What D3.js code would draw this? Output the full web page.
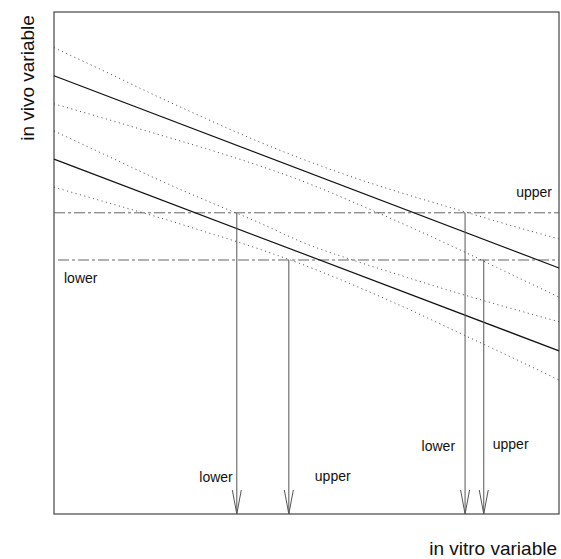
<!DOCTYPE html>
<html>
<head>
<meta charset="utf-8">
<script src="https://cdn.jsdelivr.net/npm/d3@7"></script>
<style>
  body { margin: 0; background: #fff; }
  text { font-family: "Liberation Sans", Arial, sans-serif; fill: #111; }
</style>
</head>
<body>
<div class="chart-container"></div>
<script>
//! DATA
const fitX = [0, 10];
const upperFit = [8.73, 4.90];
const lowerFit = [7.07, 3.25];

const bandX = [0, 1, 2, 3, 4, 5, 6, 7, 8, 9, 10];
const upperBandHi = [9.29, 8.82, 8.34, 7.88, 7.44, 7.04, 6.68, 6.36, 6.06, 5.76, 5.48];
const upperBandLo = [8.17, 7.88, 7.58, 7.28, 6.96, 6.60, 6.18, 5.74, 5.28, 4.80, 4.32];
const lowerBandHi = [7.63, 7.16, 6.69, 6.25, 5.83, 5.38, 5.03, 4.71, 4.40, 4.11, 3.83];
const lowerBandLo = [6.51, 6.22, 5.93, 5.62, 5.30, 4.94, 4.53, 4.09, 3.62, 3.15, 2.67];

const limitNames = ['upper', 'lower'];
const limitValues = [6.0, 5.06];

const arrowNames = ['lower', 'upper', 'lower', 'upper'];
const arrowX = [3.62, 4.65, 8.14, 8.51];
const arrowFrom = [6.0, 5.06, 6.0, 5.06];

//! CONSTS
const width = 561;
const height = 559;
const margin = { left: 54, right: 2, top: 12, bottom: 45 };

//! SVG
const svg =
  d3.select('.chart-container')
    .append('svg')
    .attr('width', width)
    .attr('height', height);

//! SCALES
const xScale =
  d3.scaleLinear()
    .domain([0, 10])
    .range([margin.left, width - margin.right]);

const yScale =
  d3.scaleLinear()
    .domain([0, 10])
    .range([height - margin.bottom, margin.top]);

const line = d3.line()
  .x((d) => xScale(d[0]))
  .y((d) => yScale(d[1]));

const curve = d3.line()
  .x((d) => xScale(d[0]))
  .y((d) => yScale(d[1]))
  .curve(d3.curveMonotoneX);

//! FRAME
svg.append('rect')
  .attr('x', xScale(0))
  .attr('y', yScale(10))
  .attr('width', xScale(10) - xScale(0))
  .attr('height', yScale(0) - yScale(10))
  .attr('fill', 'none')
  .attr('stroke', '#333')
  .attr('stroke-width', 1.1);

//! LIMITS
limitValues.forEach((v, i) => {
  svg.append('line')
    .attr('x1', xScale(i === 0 ? 0 : 0.08))
    .attr('x2', xScale(10))
    .attr('y1', yScale(v))
    .attr('y2', yScale(v))
    .attr('stroke', '#666')
    .attr('stroke-width', 1)
    .attr('stroke-dasharray', '11,3,3,3');
});

svg.append('text')
  .attr('x', xScale(10) - 7)
  .attr('y', yScale(limitValues[0]) - 16)
  .attr('text-anchor', 'end')
  .attr('font-size', 14)
  .text(limitNames[0]);

svg.append('text')
  .attr('x', xScale(0) + 10)
  .attr('y', yScale(limitValues[1]) + 23)
  .attr('font-size', 14)
  .text(limitNames[1]);

//! BANDS
const bands = [upperBandHi, upperBandLo, lowerBandHi, lowerBandLo];
bands.forEach((band) => {
  svg.append('path')
    .datum(bandX.map((x, i) => [x, band[i]]))
    .attr('d', curve)
    .attr('fill', 'none')
    .attr('stroke', '#444')
    .attr('stroke-width', 1)
    .attr('stroke-dasharray', '1,3.5');
});

//! FITS
const fits = [upperFit, lowerFit];
fits.forEach((fit) => {
  svg.append('path')
    .datum(fitX.map((x, i) => [x, fit[i]]))
    .attr('d', line)
    .attr('fill', 'none')
    .attr('stroke', '#111')
    .attr('stroke-width', 1.2);
});

//! ARROWS
const labelDx = [-4, 26, -10, 9];
const labelY = [482, 481, 451, 449];

arrowX.forEach((x, i) => {
  const px = xScale(x);
  const bottom = yScale(0);
  svg.append('line')
    .attr('x1', px)
    .attr('x2', px)
    .attr('y1', yScale(arrowFrom[i]))
    .attr('y2', bottom)
    .attr('stroke', '#555')
    .attr('stroke-width', 1);

  svg.append('path')
    .attr('d', `M${px - 4.5},${bottom - 24}L${px},${bottom}L${px + 4.5},${bottom - 24}`)
    .attr('fill', 'none')
    .attr('stroke', '#555')
    .attr('stroke-width', 1);

  svg.append('text')
    .attr('x', px + labelDx[i])
    .attr('y', labelY[i])
    .attr('text-anchor', labelDx[i] < 0 ? 'end' : 'start')
    .attr('font-size', 14)
    .text(arrowNames[i]);
});

//! AXIS TITLES
svg.append('text')
  .attr('x', 557)
  .attr('y', 555)
  .attr('text-anchor', 'end')
  .attr('font-size', 19)
  .text('in vitro variable');

svg.append('text')
  .attr('transform', 'translate(34, 78) rotate(-90)')
  .attr('text-anchor', 'middle')
  .attr('font-size', 19)
  .text('in vivo variable');
</script>
</body>
</html>
